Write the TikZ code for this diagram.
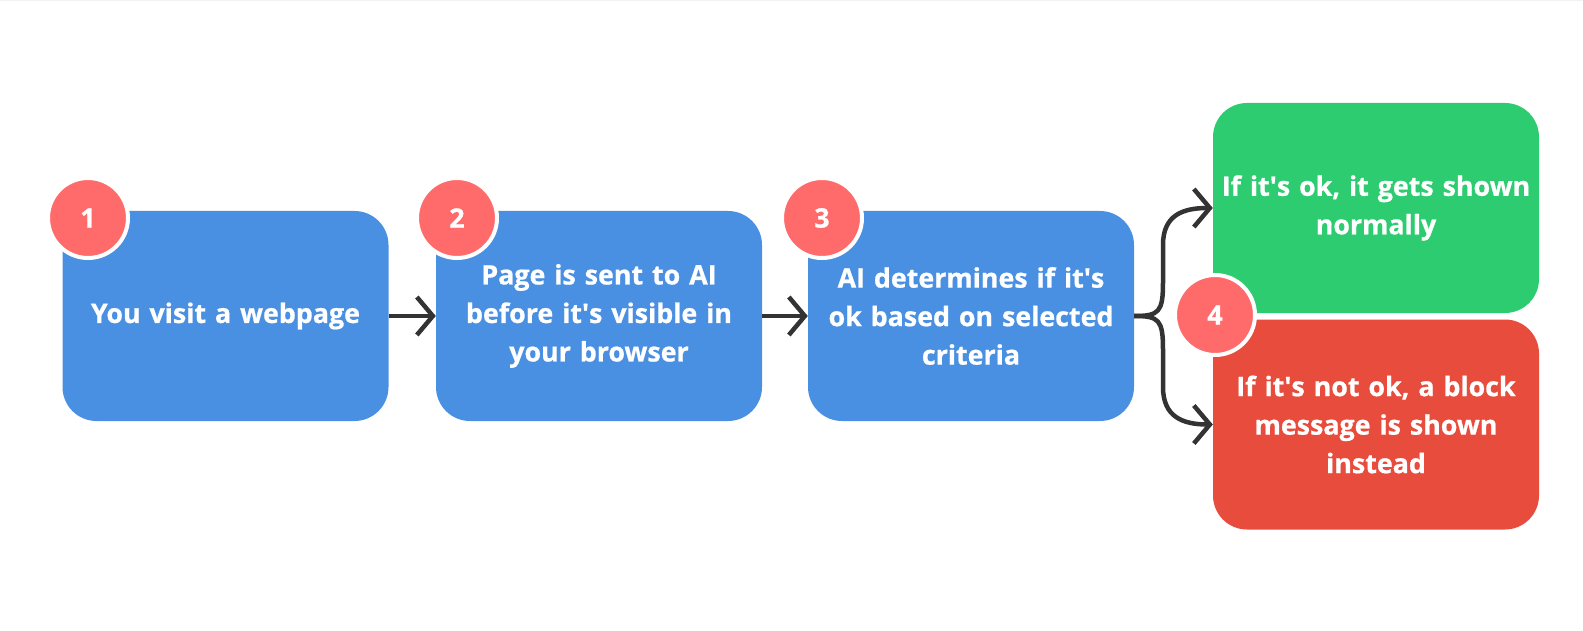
\documentclass[tikz,border=0pt]{standalone}
\usepackage{fontspec}
\setmainfont{Open Sans}[BoldFeatures={FakeBold=0.8}]
\usetikzlibrary{arrows.meta}
\definecolor{boxblue}{HTML}{4A90E2}
\definecolor{boxgreen}{HTML}{2ECC71}
\definecolor{boxred}{HTML}{E74C3C}
\definecolor{badgered}{HTML}{FF6B6B}
\definecolor{arrowgray}{HTML}{333333}
\newcommand{\aq}{\textquotesingle}
\tikzset{
  stepbox/.style={rectangle, rounded corners=34pt, minimum width=326pt, minimum height=210pt,
    inner sep=0pt, text width=320pt, align=center, text=white,
    font=\bfseries\fontsize{26.8}{38.5}\selectfont},
  badge/.style={circle, fill=badgered, draw=white, line width=4pt, minimum size=80pt,
    inner sep=0pt, text=white, font=\bfseries\fontsize{26.8}{30}\selectfont},
  arr/.style={draw=arrowgray, line width=4.5pt, -{Straight Barb[length=16pt,width=38pt]}},
}
\begin{document}
\begin{tikzpicture}[x=1pt,y=-1pt]
\useasboundingbox (0,0) rectangle (1583,631);
\fill[white] (0,0) rectangle (1583,631);
\fill[black!5] (0,0) rectangle (1583,1.5);

\node[stepbox, fill=boxblue] (b1) at (225.5,316) {You visit a webpage};
\node[stepbox, fill=boxblue] (b2) at (599,316) {Page is sent to AI\\before it\aq s visible in\\your browser};
\node[stepbox, fill=boxblue] (b3) at (971,316) {AI determines if it\aq s\\ok based on selected\\criteria};
\node[stepbox, fill=boxgreen] (g) at (1376,208) {If it\aq s ok, it gets shown\\normally};
\node[stepbox, fill=boxred] (r) at (1376,424.5) {If it\aq s not ok, a block\\message is shown\\instead};

\draw[arr] (b1.east) -- (b2.west);
\draw[arr] (b2.east) -- (b3.west);

\coordinate (up1) at (1163,282);
\coordinate (up2) at (1163,245);
\coordinate (dn1) at (1163,350);
\coordinate (dn2) at (1163,387);
\draw[arr] (b3.east) .. controls +(25,0) and +(0,30) .. (up1) -- (up2) .. controls +(0,-30) and +(-30,0) .. (g.west);
\draw[arr] (b3.east) .. controls +(25,0) and +(0,-30) .. (dn1) -- (dn2) .. controls +(0,30) and +(-30,0) .. (r.west);

\node[badge] (n1) at (88,218) {1};
\node[badge] (n2) at (457,218) {2};
\node[badge] (n3) at (822,218) {3};
\node[badge] (n4) at (1215,315) {4};
\end{tikzpicture}
\end{document}
